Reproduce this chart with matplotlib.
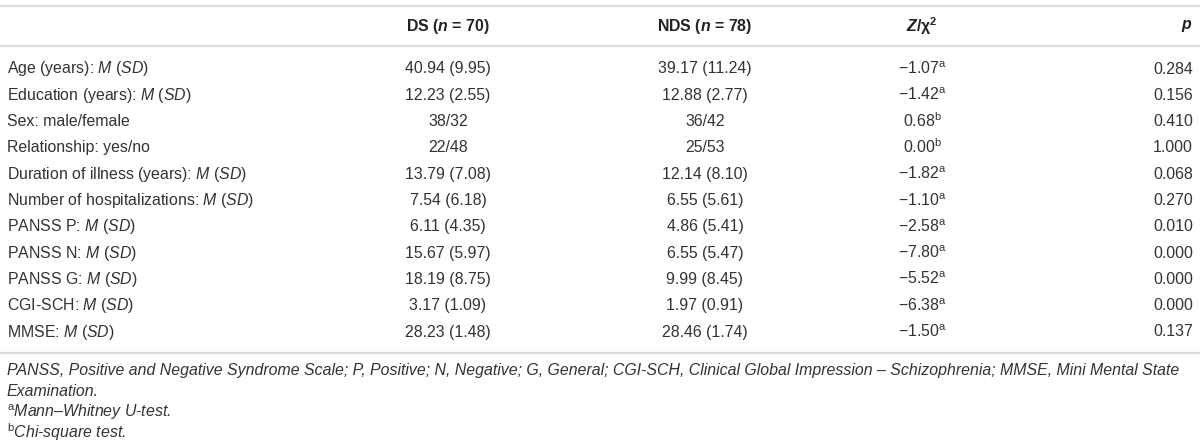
import matplotlib
matplotlib.use("Agg")
import matplotlib.pyplot as plt

plt.rcParams['font.family'] = ['Liberation Sans', 'DejaVu Sans']
plt.rcParams['mathtext.fontset'] = 'custom'
plt.rcParams['mathtext.rm'] = 'Liberation Sans'
plt.rcParams['mathtext.it'] = 'Liberation Sans:italic'
plt.rcParams['mathtext.bf'] = 'Liberation Sans:bold'
plt.rcParams['mathtext.bfit'] = 'Liberation Sans:italic:bold'

# ---- data ----
headers = ["", r"DS ($\mathbfit{n}$ = 70)", r"NDS ($\mathbfit{n}$ = 78)", r"$\mathbfit{Z}$/χ$^{\mathbf{2}}$", r"$\mathbfit{p}$"]
row_labels = [
    r"Age (years): $M$ ($SD$)",
    r"Education (years): $M$ ($SD$)",
    "Sex: male/female",
    "Relationship: yes/no",
    r"Duration of illness (years): $M$ ($SD$)",
    r"Number of hospitalizations: $M$ ($SD$)",
    r"PANSS P: $M$ ($SD$)",
    r"PANSS N: $M$ ($SD$)",
    r"PANSS G: $M$ ($SD$)",
    r"CGI-SCH: $M$ ($SD$)",
    r"MMSE: $M$ ($SD$)",
]
ds_values = ["40.94 (9.95)", "12.23 (2.55)", "38/32", "22/48", "13.79 (7.08)", "7.54 (6.18)",
             "6.11 (4.35)", "15.67 (5.97)", "18.19 (8.75)", "3.17 (1.09)", "28.23 (1.48)"]
nds_values = ["39.17 (11.24)", "12.88 (2.77)", "36/42", "25/53", "12.14 (8.10)", "6.55 (5.61)",
              "4.86 (5.41)", "6.55 (5.47)", "9.99 (8.45)", "1.97 (0.91)", "28.46 (1.74)"]
z_values = ["−1.07", "−1.42", "0.68", "0.00", "−1.82", "−1.10",
            "−2.58", "−7.80", "−5.52", "−6.38", "−1.50"]
z_tests = ["a", "a", "b", "b", "a", "a", "a", "a", "a", "a", "a"]
p_values = ["0.284", "0.156", "0.410", "1.000", "0.068", "0.270",
            "0.010", "0.000", "0.000", "0.000", "0.137"]
footnotes = [
    "PANSS, Positive and Negative Syndrome Scale; P, Positive; N, Negative; G, General; CGI-SCH, Clinical Global Impression – Schizophrenia; MMSE, Mini Mental State",
    "Examination.",
]
test_notes = [("a", "Mann–Whitney U-test."), ("b", "Chi-square test.")]

# ---- layout ----
W, H = 1200, 447
fig = plt.figure(figsize=(W / 100, H / 100), dpi=100)
ax = fig.add_axes([0, 0, 1, 1])
ax.set_xlim(0, W)
ax.set_ylim(H, 0)
ax.axis('off')

txt = '#333333'
line_c = '#dadada'
fs = 11.4

x_label = 7
x_ds = 448
x_nds = 705
x_z = 922
x_p = 1193

y_top, y_head, y_hline = 5.5, 26, 46
y_row0, dy = 69, 26.3
y_bottom = 353

for y in (y_top, y_hline, y_bottom):
    ax.plot([0, W], [y, y], color=line_c, lw=1.6, solid_capstyle='butt')

hx = [x_label, x_ds, x_nds, x_z, x_p]
ha = ['left', 'center', 'center', 'center', 'right']
for h, x, a in zip(headers, hx, ha):
    if h:
        ax.text(x, y_head, h, ha=a, va='center', fontsize=fs, fontweight='bold', color='#222222')

for i, lab in enumerate(row_labels):
    y = y_row0 + i * dy
    ax.text(x_label, y, lab, ha='left', va='center', fontsize=fs, color=txt)
    ax.text(x_ds, y, ds_values[i], ha='center', va='center', fontsize=fs, color=txt)
    ax.text(x_nds, y, nds_values[i], ha='center', va='center', fontsize=fs, color=txt)
    ax.text(x_z, y + 5, z_values[i] + r"$^{\mathrm{" + z_tests[i] + "}}$", ha='center', va='baseline',
            fontsize=fs, color=txt)
    ax.text(x_p, y, p_values[i], ha='right', va='center', fontsize=fs, color=txt)

y_fn = [370, 391]
for s, y in zip(footnotes, y_fn):
    ax.text(x_label, y, s, ha='left', va='center', fontsize=fs, style='italic', color=txt)
y_tn = [412, 432]
for (sup, s), y in zip(test_notes, y_tn):
    ax.text(x_label, y, r"$^{\mathrm{" + sup + "}}$" + s, ha='left', va='center', fontsize=fs,
            style='italic', color=txt)

fig.savefig("out.png", dpi=100)
